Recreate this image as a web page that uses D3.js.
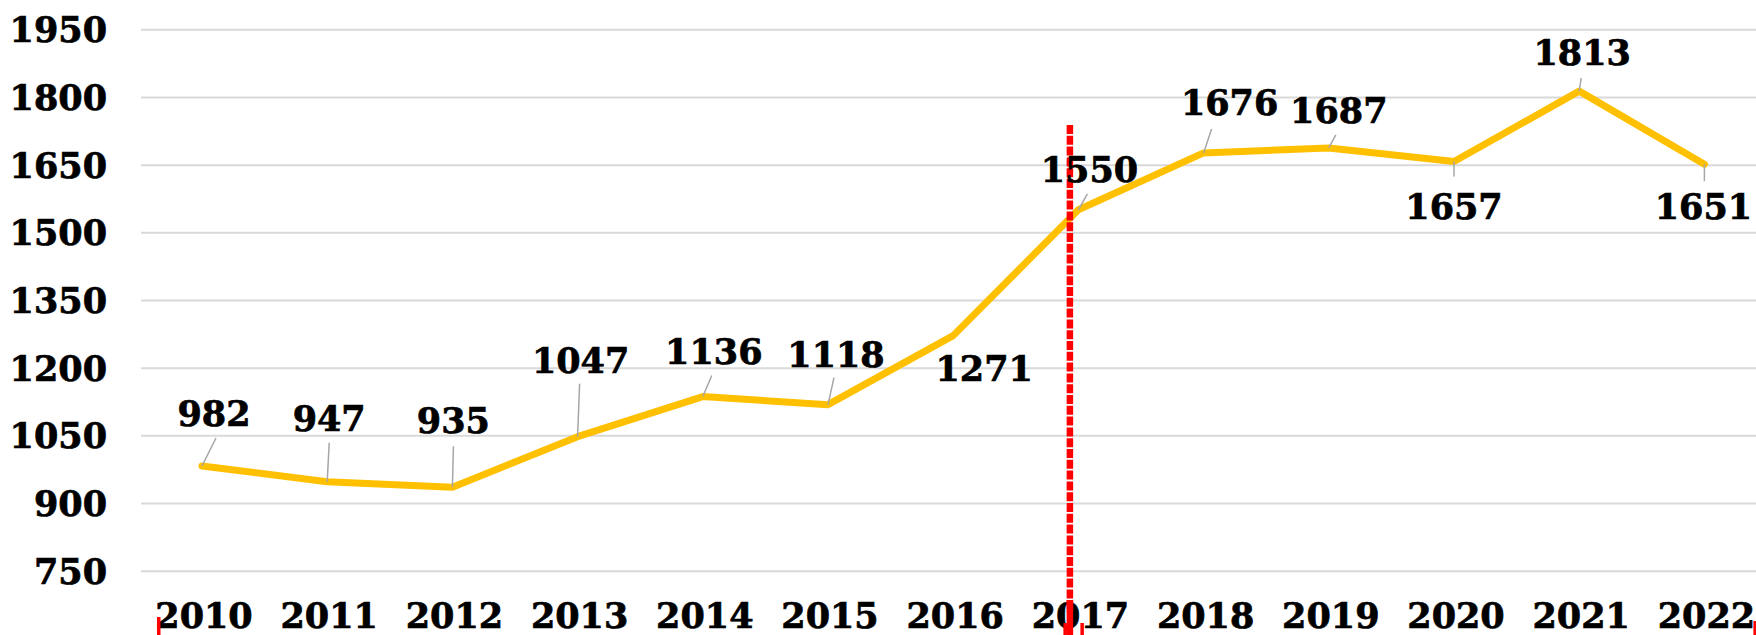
<!DOCTYPE html>
<html>
<head>
<meta charset="utf-8">
<script src="https://cdn.jsdelivr.net/npm/d3@7"></script>
<style>
  html, body { margin: 0; padding: 0; background: #fff; }
  #chart { width: 1756px; height: 635px; }
  text { font-family: "DejaVu Serif", serif; font-weight: bold; fill: #000; stroke: #000; stroke-width: 0.7; }
  .grid line { stroke: #d9d9d9; stroke-width: 2; }
  .grid path { display: none; }
  .curve { fill: none; stroke: #ffc000; stroke-width: 7; stroke-linejoin: round; stroke-linecap: round; }
  .leader { stroke: #a6a6a6; stroke-width: 1.5; }
</style>
</head>
<body>
<div id="chart"></div>
<script>
// Jahreswerte
const years = ["2010", "2011", "2012", "2013", "2014", "2015", "2016", "2017", "2018", "2019", "2020", "2021", "2022"];
const values = [982, 947, 935, 1047, 1136, 1118, 1271, 1550, 1676, 1687, 1657, 1813, 1651];
const yTicks = [750, 900, 1050, 1200, 1350, 1500, 1650, 1800, 1950];
const markerYear = "2017";

// Beschriftungs-Layout (Versatz zum Punkt, px): [dx, dy] Text, [lx, ly] Ende der Führungslinie
const labelOffsets = [[12, -40], [2, -51], [1, -54], [3, -64], [11, -33], [8, -38], [31, 45],
  [11, -28], [26, -38], [10, -25], [0, 58], [3, -26], [-1, 55]];
const leaderOffsets = [[14, -28], [2, -39], [1, -41], [2, -53], [9, -21], [6, -27], null,
  [9, -16], [8, -24], [7, -13], [0, 15], [2, -13], [0, 17]];

const W = 1756, H = 635;
const svg = d3.select("#chart").append("svg")
  .attr("width", W).attr("height", H)
  .attr("viewBox", `0 0 ${W} ${H}`);

const x = d3.scaleBand().domain(years).range([139.4, 1767]).padding(0);
const y = d3.scaleLinear().domain([750, 1950]).range([570.7, 29.3]);
const cx = d => x(d) + x.bandwidth() / 2;

// Gitter
svg.append("g")
  .attr("class", "grid")
  .attr("transform", "translate(141,0)")
  .call(d3.axisRight(y).tickValues(yTicks).tickSize(W - 141).tickFormat(""));

// Y-Achse
svg.append("g").selectAll("text")
  .data(yTicks)
  .enter().append("text")
  .attr("x", 107)
  .attr("y", d => y(d))
  .attr("dy", "0.37em")
  .attr("text-anchor", "end")
  .style("font-size", "35px")
  .text(d => d);

// X-Achse
svg.append("g").selectAll("text")
  .data(years)
  .enter().append("text")
  .attr("x", d => cx(d) + 2)
  .attr("y", 628)
  .attr("text-anchor", "middle")
  .style("font-size", "35px")
  .text(d => d);

// Kurve
const line = d3.line()
  .x((_, i) => cx(years[i]))
  .y(d => y(d));

svg.append("path")
  .attr("class", "curve")
  .attr("d", line(values));

// Führungslinien
svg.append("g").selectAll("line")
  .data(values.map((v, i) => ({ v, i })).filter(d => leaderOffsets[d.i]))
  .enter().append("line")
  .attr("class", "leader")
  .attr("x1", d => cx(years[d.i]))
  .attr("y1", d => y(d.v))
  .attr("x2", d => cx(years[d.i]) + leaderOffsets[d.i][0])
  .attr("y2", d => y(d.v) + leaderOffsets[d.i][1]);

// Markierung 2017 (rot gestrichelt)
const mx = cx(markerYear) - 8.5;
svg.append("line")
  .attr("x1", mx).attr("x2", mx)
  .attr("y1", 125).attr("y2", 612)
  .attr("stroke", "#ff0000")
  .attr("stroke-width", 6.5)
  .attr("stroke-dasharray", "9,1.8");

svg.append("line")
  .attr("x1", mx).attr("x2", mx)
  .attr("y1", 600).attr("y2", H)
  .attr("stroke", "#ff0000")
  .attr("stroke-width", 6.5);

// Reste der roten Rahmen unten
const stubs = [[cx("2010") - 45, 617], [cx(markerYear) - 15, 623], [cx(markerYear) + 2, 623], [cx("2022") + 49, 621]];
svg.append("g").selectAll("rect")
  .data(stubs)
  .enter().append("rect")
  .attr("x", d => d[0])
  .attr("y", d => d[1])
  .attr("width", 3.5)
  .attr("height", d => H - d[1])
  .attr("fill", "#ff0000");

// Datenbeschriftungen
svg.append("g").selectAll("text")
  .data(values)
  .enter().append("text")
  .attr("x", (d, i) => cx(years[i]) + labelOffsets[i][0])
  .attr("y", (d, i) => y(d) + labelOffsets[i][1])
  .attr("text-anchor", "middle")
  .style("font-size", "35px")
  .text(d => d);
</script>
</body>
</html>
